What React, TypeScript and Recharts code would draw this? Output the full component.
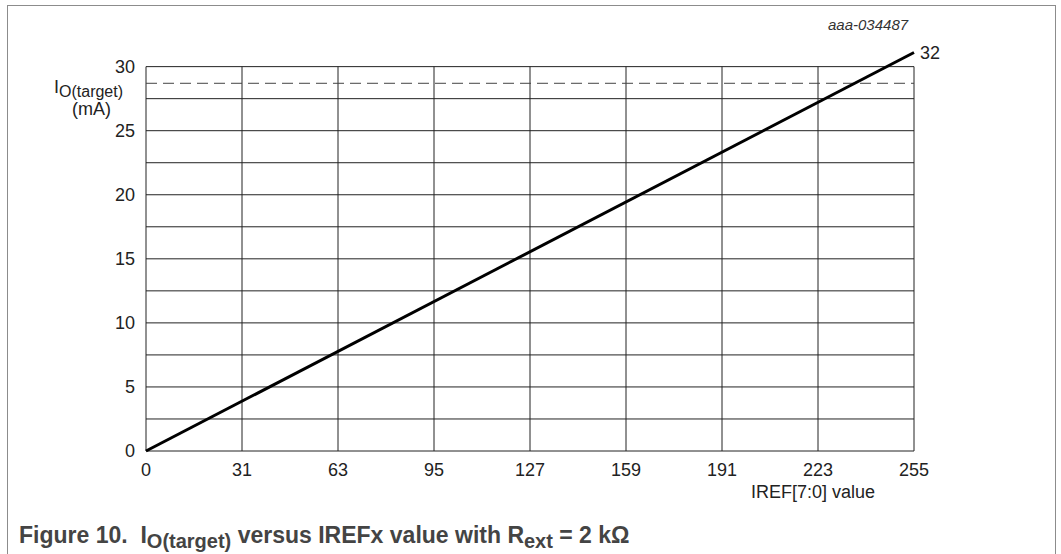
import { Line, LineChart, ReferenceLine, XAxis, YAxis } from "recharts";

// IREF[7:0] axis: tick slots are evenly spaced, labelled with the code values
const xTickPos = [0, 32, 64, 96, 128, 160, 192, 224, 256];
const xTickLabels = ["0", "31", "63", "95", "127", "159", "191", "223", "255"];

const yTicks = [0, 2.5, 5, 7.5, 10, 12.5, 15, 17.5, 20, 22.5, 25, 27.5, 30];
const yLabelled = [0, 5, 10, 15, 20, 25, 30];

// I_O(target) line
const irefPos = [0, 256];
const ioTarget = [0, 31.1];
const endLabel = "32";
const dashedLimit = 28.7;

const data = irefPos.map((x, i) => ({ x, y: ioTarget[i] }));

const FONT = "'Liberation Sans', Arial, Helvetica, sans-serif";
const INK = "#222";

const EndLabel = (props: any) => {
  const { x, y, index } = props;
  if (index !== data.length - 1) return null;
  return (
    <text x={x + 6} y={y} dy="0.35em" fontSize={18} fill={INK} fontFamily={FONT}>
      {endLabel}
    </text>
  );
};

const App = () => {
  const yTop = yTicks[yTicks.length - 1];
  const xEnd = xTickPos[xTickPos.length - 1];
  return (
    <div
      style={{
        position: "absolute",
        left: 0,
        top: 0,
        width: 1061,
        height: 554,
        overflow: "hidden",
        background: "#fff",
        fontFamily: FONT,
      }}
    >
      <div
        style={{
          position: "absolute",
          left: 7,
          top: 5,
          width: 1047,
          height: 600,
          border: "1px solid #8c8c8c",
        }}
      />
      <div style={{ position: "absolute", left: 0, top: 0 }}>
        <LineChart
          width={1061}
          height={554}
          data={data}
          margin={{ top: 41, right: 147, left: 86, bottom: 73 }}
          style={{ fontFamily: FONT }}
        >
          <XAxis
            dataKey="x"
            type="number"
            domain={[0, 256]}
            ticks={xTickPos}
            interval={0}
            tickFormatter={(v: number) => xTickLabels[xTickPos.indexOf(v)] ?? ""}
            tickLine={false}
            axisLine={false}
            tickSize={0}
            tickMargin={12}
            height={30}
            tick={{ fontSize: 18, fill: INK, fontFamily: FONT }}
          />
          <YAxis
            type="number"
            domain={[0, 32]}
            ticks={yTicks}
            interval={0}
            tickFormatter={(v: number) => (yLabelled.includes(v) ? String(v) : "")}
            tickLine={false}
            axisLine={false}
            tickSize={0}
            tickMargin={11}
            width={60}
            tick={{ fontSize: 18, fill: INK, fontFamily: FONT }}
          />
          {yTicks.map((t) => (
            <ReferenceLine
              key={`h${t}`}
              segment={[
                { x: 0, y: t },
                { x: xEnd, y: t },
              ]}
              stroke={INK}
              strokeWidth={1}
            />
          ))}
          {xTickPos.map((p) => (
            <ReferenceLine
              key={`v${p}`}
              segment={[
                { x: p, y: 0 },
                { x: p, y: yTop },
              ]}
              stroke={INK}
              strokeWidth={1}
            />
          ))}
          <ReferenceLine y={dashedLimit} stroke="#444" strokeWidth={1} strokeDasharray="11 6" />
          <Line
            type="linear"
            dataKey="y"
            stroke="#000"
            strokeWidth={3}
            dot={false}
            isAnimationActive={false}
            label={<EndLabel />}
          />
        </LineChart>
      </div>
      <svg
        width={1061}
        height={554}
        style={{ position: "absolute", left: 0, top: 0, pointerEvents: "none", fontFamily: FONT }}
      >
        <text x={828} y={30} fontSize={15} fontStyle="italic" fill="#333">
          aaa-034487
        </text>
        <text x={54} y={93} fontSize={18} fill={INK}>
          I
          <tspan fontSize={16} dy={4}>
            O(target)
          </tspan>
        </text>
        <text x={91.5} y={115} fontSize={18} fill={INK} textAnchor="middle">
          (mA)
        </text>
        <text x={751} y={498} fontSize={18} fill={INK}>
          IREF[7:0] value
        </text>
        <text x={19} y={543} fontSize={23} fontWeight="bold" fill="#444" style={{ whiteSpace: "pre" }}>
          {"Figure 10.  I"}
          <tspan fontSize={20} dy={5}>
            O(target)
          </tspan>
          <tspan dy={-5}>{" versus IREFx value with R"}</tspan>
          <tspan fontSize={20} dy={5}>
            ext
          </tspan>
          <tspan dy={-5}>{" = 2 kΩ"}</tspan>
        </text>
      </svg>
    </div>
  );
};

export default App;
